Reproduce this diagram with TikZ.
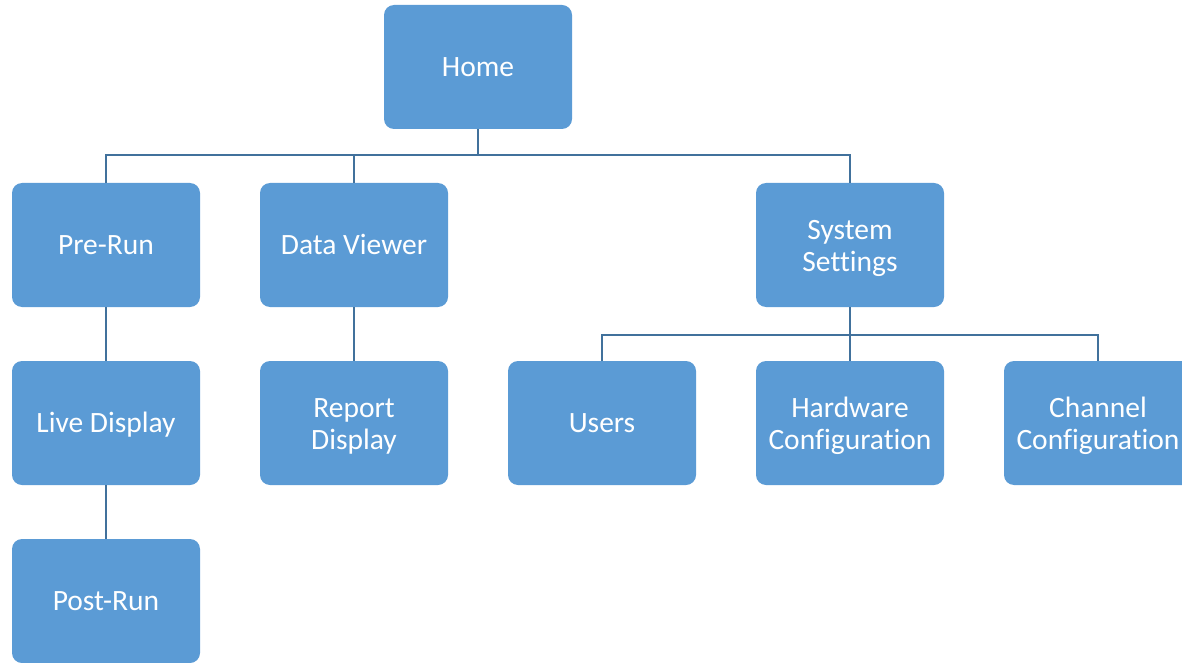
\documentclass[tikz,border=0pt]{standalone}
\usepackage{fontspec}
\setmainfont{Carlito}[Ligatures=NoCommon]
\definecolor{boxblue}{HTML}{5B9BD5}
\definecolor{lineblue}{HTML}{41719C}
\newcommand{\topstrut}{\rule{0pt}{26pt}}
\begin{document}
\begin{tikzpicture}[x=1pt,y=-1pt,
  box/.style={fill=boxblue, rounded corners=10pt, minimum width=188pt, minimum height=124pt,
    inner sep=0pt, text=white, align=center,
    font=\fontsize{29.5pt}{32pt}\selectfont},
  oneline/.style={box, text height=19pt, text depth=0pt},
  link/.style={draw=lineblue, line width=2pt}]
\useasboundingbox (0,0) rectangle (1182,663);
\clip (0,0) rectangle (1182,663);
\node[oneline] (home) at (478,67) {Home};
\node[oneline] (prerun) at (106,245) {Pre-Run};
\node[oneline] (data) at (354,245) {Data Viewer};
\node[box] (sys) at (850,245) {\topstrut System\\Settings};
\node[oneline] (live) at (106,423) {Live Display};
\node[box] (report) at (354,423) {\topstrut Report\\Display};
\node[oneline] (users) at (602,423) {Users};
\node[box] (hw) at (850,423) {\topstrut Hardware\\Configuration};
\node[box] (ch) at (1098,423) {\topstrut Channel\\Configuration};
\node[oneline] (post) at (106,601) {Post-Run};
\coordinate (hb) at (478,155);
\coordinate (sb) at (850,335);
\draw[link] (home.south) -- (hb);
\draw[link] (hb) -| (prerun.north);
\draw[link] (hb) -| (data.north);
\draw[link] (hb) -| (sys.north);
\draw[link] (prerun.south) -- (live.north);
\draw[link] (live.south) -- (post.north);
\draw[link] (data.south) -- (report.north);
\draw[link] (sys.south) -- (sb);
\draw[link] (sb) -| (users.north);
\draw[link] (sb) -- (hw.north);
\draw[link] (sb) -| (ch.north);
\end{tikzpicture}
\end{document}
